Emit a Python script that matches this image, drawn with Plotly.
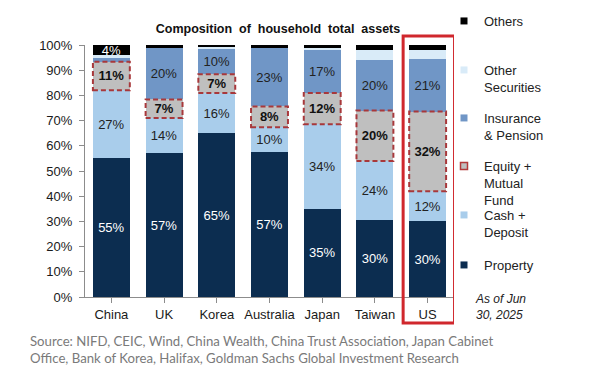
import plotly.graph_objects as go

countries = ["China", "UK", "Korea", "Australia", "Japan", "Taiwan", "US"]
property_vals = [55, 57, 65, 57.4, 35, 30.4, 30]
cash_vals = [27, 14, 16, 10, 33.6, 23.6, 12]
equity_vals = [11.4, 7.4, 7.4, 8.2, 12.4, 20, 31.6]
insurance_vals = [1.6, 20.4, 10.2, 23.4, 17, 20, 21]
other_sec_vals = [1, 0, 1, 0, 0.8, 3.9, 3.4]
others_vals = [4, 1.2, 0.4, 1, 1.2, 2.1, 2]
y_ticks = list(range(0, 101, 10))
y_tick_labels = [f"{v}%" for v in y_ticks]

FONT = "Liberation Sans, Arial, sans-serif"
BAR_W = 0.7

series = [
    # name, legend text, values, fill, text color, label threshold, bold
    ("Property", "Property", property_vals, "#0c2d50", "#ffffff", 5, False),
    ("Cash + Deposit", "Cash +<br>Deposit", cash_vals, "#a9cdeb", "#222222", 5, False),
    ("Equity + Mutual Fund", "Equity +<br>Mutual<br>Fund", equity_vals, "#bfbfbf", "#111111", 5, True),
    ("Insurance & Pension", "Insurance<br>& Pension", insurance_vals, "#7096c6", "#222222", 5, False),
    ("Other Securities", "Other<br>Securities", other_sec_vals, "#d9ebf8", "#222222", 101, False),
    ("Others", "Others", others_vals, "#000000", "#ffffff", 3.5, False),
]

fig = go.Figure()
xs = list(range(len(countries)))
for name, _, vals, color, tcolor, thr, bold in series:
    fig.add_trace(go.Bar(
        x=xs, y=vals, name=name, width=BAR_W,
        marker=dict(color=color, line=dict(width=0)),
        text=[f"{v:.0f}%" if v >= thr else "" for v in vals],
        textposition="inside", insidetextanchor="middle",
        textfont=dict(family=FONT, size=13, color=tcolor, weight="bold" if bold else "normal"),
        showlegend=False, hoverinfo="skip",
    ))

# legend entries (one legend per item, evenly spaced like the original)
legend_centers = [21, 70, 118, 166, 215, 265]  # pixel centers of first text line
legend_order = list(reversed(series))
for k, (name, ltext, vals, color, tcolor, thr, bold) in enumerate(legend_order):
    lid = "legend" if k == 0 else f"legend{k+1}"
    line = dict(color="#b23a3a", width=1.5) if name.startswith("Equity") else dict(width=0)
    fig.add_trace(go.Scatter(
        x=[None], y=[None], mode="markers", name=ltext,
        marker=dict(symbol="square", size=7, color=color, line=line),
        showlegend=True, legend=lid,
    ))
    top_px = legend_centers[k] - 15
    fig.update_layout({lid: dict(
        x=(444 - 85) / 369, xanchor="left",
        y=(297 - top_px) / 252, yanchor="top",
        valign="top", bgcolor="rgba(0,0,0,0)", borderwidth=0,
        font=dict(family=FONT, size=13, color="#222222"),
        itemwidth=30,
    )})

# dashed outlines around equity segments
shapes = []
for i, (p, c, e) in enumerate(zip(property_vals, cash_vals, equity_vals)):
    base = p + c
    shapes.append(dict(type="rect", xref="x", yref="y",
                       x0=i - BAR_W / 2, x1=i + BAR_W / 2, y0=base, y1=base + e,
                       line=dict(color="#a8383b", width=2, dash="5px,3px"),
                       fillcolor="rgba(0,0,0,0)", layer="above"))
# red highlight around US
us = countries.index("US")
shapes.append(dict(type="rect", xref="x", yref="paper",
                   x0=us - 0.465, x1=us + 0.51,
                   y0=(297 - 323) / 252, y1=(297 - 36) / 252,
                   line=dict(color="#d0272d", width=3), fillcolor="rgba(0,0,0,0)"))

annotations = [
    dict(text="As of Jun<br>30, 2025", xref="paper", yref="paper",
         x=(473 - 85) / 369, y=(297 - 306.5) / 252, xanchor="left", yanchor="middle",
         align="left", showarrow=False,
         font=dict(family=FONT, size=12, color="#222222", style="italic")),
    dict(text="Source: NIFD, CEIC, Wind, China Wealth, China Trust Association, Japan Cabinet<br>"
              "Office, Bank of Korea, Halifax, Goldman Sachs Global Investment Research",
         xref="paper", yref="paper", x=(28 - 85) / 369, y=(297 - 349.5) / 252,
         xanchor="left", yanchor="middle", align="left", showarrow=False,
         font=dict(family="Lato, sans-serif", size=13.2, color="#7a7a7a")),
]

fig.update_layout(
    template="none",
    width=593, height=383,
    margin=dict(l=85, r=139, t=45, b=86, autoexpand=False),
    barmode="stack", bargap=0.3,
    plot_bgcolor="white", paper_bgcolor="white",
    font=dict(family=FONT, size=13, color="#1a1a1a"),
    title=dict(text="<b>Composition  of  household  total  assets</b>",
               x=(278 - 85) / 369, xref="paper", xanchor="center",
               y=1 - 29 / 383, yanchor="middle",
               font=dict(family=FONT, size=12.5, color="#111111")),
    uniformtext=dict(minsize=13, mode="show"),
    shapes=shapes, annotations=annotations,
    xaxis=dict(tickmode="array", tickvals=xs, ticktext=countries,
               range=[-0.5, len(countries) - 0.5],
               showline=True, linecolor="#8c8c8c", linewidth=1,
               ticks="outside", tickson="boundaries", ticklen=5, tickcolor="#8c8c8c",
               showgrid=False, zeroline=False,
               tickfont=dict(family=FONT, size=13, color="#1a1a1a")),
    yaxis=dict(range=[0, 100], tickmode="array", tickvals=y_ticks, ticktext=y_tick_labels,
               showline=True, linecolor="#8c8c8c", linewidth=1,
               ticks="outside", ticklen=5, tickcolor="#8c8c8c",
               showgrid=False, zeroline=False, ticklabelstandoff=4,
               tickfont=dict(family=FONT, size=13, color="#1a1a1a")),
)

fig.write_html("out.html", config={"displayModeBar": False},
               post_script="document.body.style.margin='0';")
